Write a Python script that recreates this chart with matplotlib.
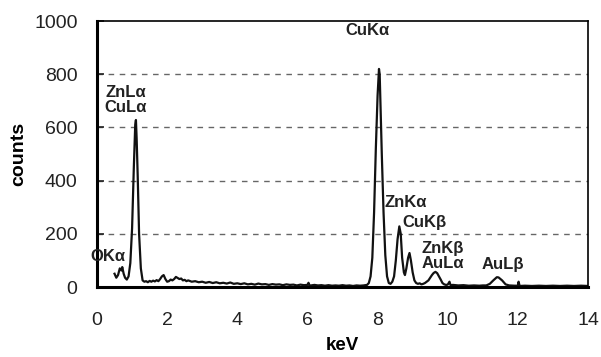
import matplotlib.pyplot as plt
import numpy as np

plt.rcParams['font.family'] = ['Liberation Sans', 'DejaVu Sans']

# EDX spectrum (keV, counts)
energy = [0.50, 0.55, 0.60, 0.65, 0.70, 0.72, 0.76, 0.80, 0.85, 0.90, 0.95, 1.00, 1.05, 1.09, 1.11, 1.13, 1.16, 1.20, 1.25, 1.30,
          1.35, 1.40, 1.45, 1.50, 1.55, 1.60, 1.65, 1.70, 1.75, 1.80, 1.85, 1.90, 1.95, 2.00, 2.05, 2.10, 2.15, 2.20, 2.25, 2.30,
          2.35, 2.40, 2.45, 2.50, 2.55, 2.60, 2.70, 2.80, 2.90, 3.00, 3.10, 3.20, 3.30, 3.40, 3.50, 3.60, 3.70, 3.80, 3.90, 4.00,
          4.10, 4.20, 4.30, 4.40, 4.50, 4.60, 4.70, 4.80, 4.90, 5.00, 5.10, 5.20, 5.30, 5.40, 5.50, 5.60, 5.70, 5.80, 5.90, 6.00,
          6.03, 6.06, 6.10, 6.20, 6.30, 6.40, 6.50, 6.60, 6.70, 6.80, 6.90, 7.00, 7.10, 7.20, 7.30, 7.40, 7.50, 7.60, 7.70, 7.75,
          7.80, 7.85, 7.90, 7.95, 8.00, 8.04, 8.06, 8.08, 8.12, 8.17, 8.22, 8.27, 8.32, 8.37, 8.42, 8.47, 8.52, 8.57, 8.62, 8.66,
          8.70, 8.75, 8.78, 8.82, 8.87, 8.91, 8.95, 9.00, 9.05, 9.10, 9.15, 9.20, 9.25, 9.30, 9.35, 9.40, 9.45, 9.50, 9.55, 9.60,
          9.65, 9.70, 9.75, 9.80, 9.85, 9.90, 9.95, 10.00, 10.05, 10.08, 10.15, 10.30, 10.45, 10.60, 10.75, 10.90, 11.00, 11.10, 11.20, 11.30,
          11.40, 11.45, 11.55, 11.65, 11.75, 11.90, 12.00, 12.02, 12.05, 12.20, 12.40, 12.60, 12.80, 13.00, 13.20, 13.40, 13.60, 13.80, 14.00]
counts = [50, 35, 45, 70, 62, 75, 50, 35, 28, 40, 90, 220, 450, 610, 628, 560, 420, 200, 70, 25,
          20, 22, 18, 23, 20, 24, 21, 26, 22, 30, 40, 45, 30, 20, 22, 28, 25, 30, 38, 34,
          30, 32, 25, 27, 22, 25, 20, 22, 18, 20, 16, 19, 15, 18, 14, 16, 13, 17, 12, 14,
          11, 14, 10, 12, 9, 13, 10, 11, 8, 11, 9, 10, 7, 10, 8, 9, 6, 9, 7, 8,
          16, 6, 6, 8, 6, 7, 5, 7, 5, 6, 5, 7, 5, 6, 4, 6, 5, 6, 8, 15,
          40, 110, 280, 520, 720, 820, 800, 700, 500, 280, 120, 40, 15, 12, 20, 40, 100, 180, 228, 200,
          110, 55, 45, 70, 110, 128, 100, 55, 25, 15, 12, 14, 10, 12, 15, 20, 25, 35, 45, 53,
          57, 52, 40, 28, 15, 10, 8, 9, 20, 7, 8, 6, 7, 5, 6, 5, 6, 6, 12, 25,
          37, 36, 25, 10, 6, 5, 5, 20, 4, 5, 4, 5, 4, 5, 4, 5, 4, 5, 4]

# peak labels: text, x, y (data units, text centre)
peak_labels = ['CuK\u03b1', 'ZnL\u03b1\nCuL\u03b1', 'OK\u03b1', 'ZnK\u03b1', 'CuK\u03b2', 'ZnK\u03b2\nAuL\u03b1', 'AuL\u03b2']
label_x = [7.71, 0.82, 0.31, 8.80, 9.34, 9.85, 11.56]
label_y = [966, 703, 113, 316, 244, 116, 83]

fig = plt.figure(figsize=(6.01, 3.57), dpi=100)
ax = fig.add_axes([0.1614, 0.196, 0.8170, 0.745])

ax.plot(energy, counts, color='#111111', lw=1.6)

for t, x, y in zip(peak_labels, label_x, label_y):
    ax.text(x, y, t, fontsize=12, fontweight='bold', ha='center', va='center', linespacing=1.0, color='#222222')

ax.set_xlim(0, 14)
ax.set_ylim(0, 1000)
ax.set_xticks(np.arange(0, 15, 2))
ax.set_yticks(np.arange(0, 1001, 200))
for g in [200, 400, 600, 800]:
    ax.axhline(g, color='#666666', lw=1.0, ls=(0, (4, 4)), zorder=0)

ax.tick_params(axis='x', length=0, pad=18, labelsize=14, colors='#222222')
ax.tick_params(axis='y', length=5, width=1.2, direction='in', pad=14, labelsize=14, colors='#222222')
ax.spines['left'].set_linewidth(2.2)
ax.spines['bottom'].set_linewidth(2.2)
ax.spines['top'].set_linewidth(1.2)
ax.spines['right'].set_linewidth(1.2)

ax.set_xlabel('keV', fontsize=13.5, fontweight='bold', labelpad=6)
ax.set_ylabel('counts', fontsize=14, fontweight='bold', labelpad=5)

fig.savefig('out.png', dpi=100)
